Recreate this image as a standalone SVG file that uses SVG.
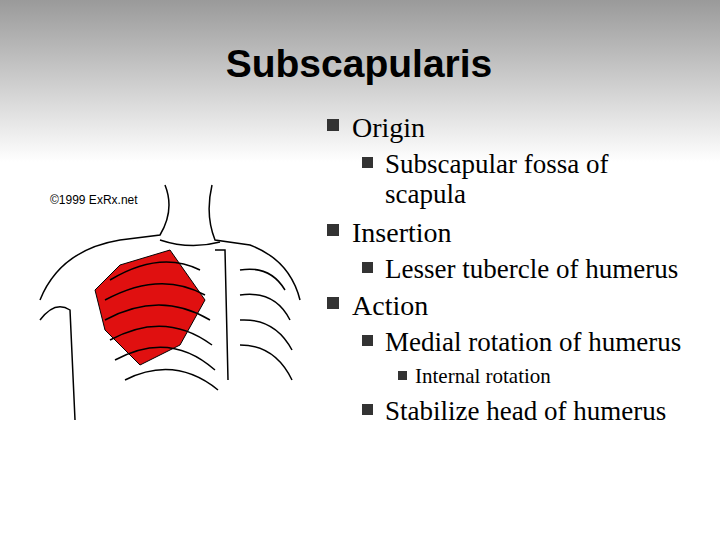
<svg xmlns="http://www.w3.org/2000/svg" width="720" height="540" viewBox="0 0 720 540">
<defs>
<linearGradient id="bg" x1="0" y1="0" x2="0" y2="1">
<stop offset="0" stop-color="#9a9a9a"/><stop offset="0.3" stop-color="#ffffff"/><stop offset="1" stop-color="#ffffff"/>
</linearGradient>
<style>
.b{fill:#333}
.ln{fill:none;stroke:#000;stroke-width:1.5}
.t{font-family:'Liberation Serif','Times New Roman',serif}
</style>
</defs>
<rect width="720" height="540" fill="url(#bg)"/>
<text x="359" y="77" text-anchor="middle" font-family="Liberation Sans, Arial, sans-serif" font-weight="bold" font-size="39">Subscapularis</text>
<g id="figure">
<rect x="37" y="180" width="268" height="240" fill="#fff"/>
<text x="50" y="204" font-family="Liberation Sans, sans-serif" font-size="12">©1999 ExRx.net</text>
<path d="M95 290 L120 265 L170 250 L205 300 L180 345 L140 365 L105 330 Z" fill="#e01010" stroke="#000"/>
<path class="ln" d="M40 300 Q60 250 120 240 L160 235 Q175 210 165 185"/>
<path class="ln" d="M300 300 Q290 260 250 245 L215 240 Q205 215 212 185"/>
<path class="ln" d="M160 240 Q190 250 220 242"/>
<path class="ln" d="M215 250 L225 250 L228 380"/>
<g class="ln">
<path d="M110 280 Q160 250 200 270"/><path d="M105 300 Q160 270 205 295"/>
<path d="M105 320 Q160 290 210 320"/><path d="M110 340 Q165 310 212 345"/>
<path d="M115 360 Q170 330 215 370"/><path d="M125 380 Q175 355 218 390"/>
<path d="M240 270 Q270 265 285 290"/><path d="M240 295 Q275 290 290 320"/>
<path d="M240 320 Q275 318 292 350"/><path d="M240 345 Q275 345 292 380"/>
</g>
<path class="ln" d="M40 320 Q55 300 70 310 L75 420"/>
</g>
<g id="text" fill="#000">
<rect class="b" x="327" y="119" width="12" height="12"/>
<text class="t" x="352" y="137" font-size="28">Origin</text>
<rect class="b" x="362" y="157" width="11" height="11"/>
<text class="t" x="385" y="173" font-size="27">Subscapular fossa of</text>
<text class="t" x="385" y="203" font-size="27">scapula</text>
<rect class="b" x="327" y="224" width="12" height="12"/>
<text class="t" x="352" y="242" font-size="28">Insertion</text>
<rect class="b" x="362" y="262" width="11" height="11"/>
<text class="t" x="385" y="278" font-size="27">Lesser tubercle of humerus</text>
<rect class="b" x="327" y="297" width="12" height="12"/>
<text class="t" x="352" y="315" font-size="28">Action</text>
<rect class="b" x="362" y="335" width="11" height="11"/>
<text class="t" x="385" y="351" font-size="27">Medial rotation of humerus</text>
<rect class="b" x="398" y="371" width="9" height="9"/>
<text class="t" x="415" y="383" font-size="21">Internal rotation</text>
<rect class="b" x="362" y="404" width="11" height="11"/>
<text class="t" x="385" y="420" font-size="27">Stabilize head of humerus</text>
</g>
</svg>
